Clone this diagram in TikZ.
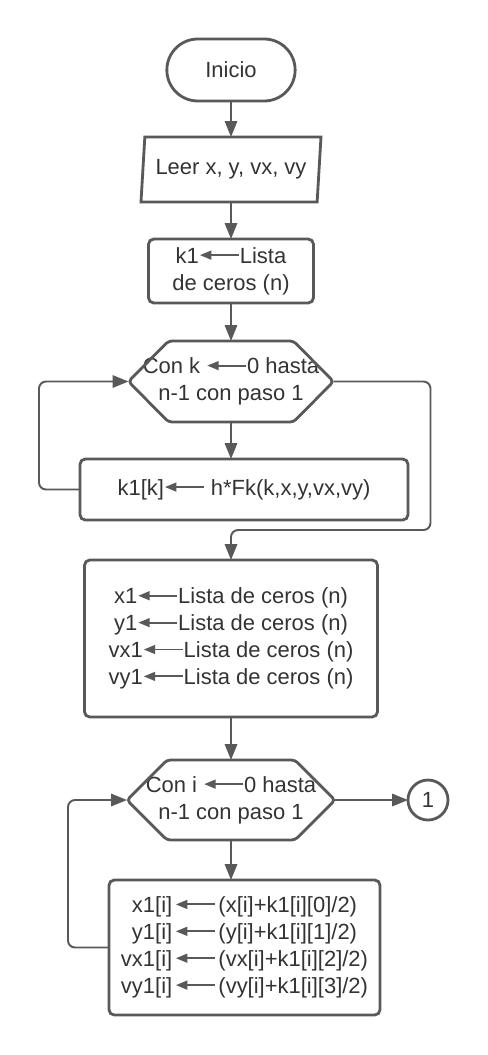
\documentclass[tikz,border=0pt]{standalone}
\usepackage{fontspec}
\setmainfont{Liberation Sans}
\usepackage{xcolor}
\usepackage{tikz}
\usetikzlibrary{positioning, arrows.meta, shapes.geometric, shapes.misc, calc}

\definecolor{linea}{RGB}{89,89,89}
\definecolor{texto}{RGB}{51,51,51}

% flecha de asignacion dentro del texto
\newcommand{\asig}[1][0.78cm]{\tikz[baseline=-0.7ex]\draw[draw=linea, line width=1.1pt, sharp corners, {Triangle[length=6.5pt,width=5pt]}-] (0,0) -- (#1,0);}
% contorno del hexagono de los ciclos
\newcommand{\hexa}[1]{\draw[forma, rounded corners=2pt] (#1.west) -- ([xshift=0.8cm]#1.north west) -- ([xshift=-0.8cm]#1.north east) -- (#1.east) -- ([xshift=-0.8cm]#1.south east) -- ([xshift=0.8cm]#1.south west) -- cycle;}

\begin{document}
\begin{tikzpicture}[
    node distance=0.75cm,
    font=\fontsize{12.5}{15.3}\selectfont,
    text=texto,
    forma/.style={draw=linea, line width=1.6pt},
    caja/.style={forma, rectangle, rounded corners=3pt, align=center, inner sep=2pt, outer sep=0pt},
    terminal/.style={forma, rounded rectangle, minimum width=2.8cm, minimum height=1.24cm, outer sep=0pt},
    datos/.style={forma, trapezium, trapezium left angle=83, trapezium right angle=97,
                  trapezium stretches body, minimum width=3.6cm, minimum height=1.3cm, outer sep=0pt},
    ciclo/.style={rectangle, align=center, inner sep=0pt, outer sep=0pt},
    conector/.style={forma, circle, minimum size=0.8cm, inner sep=0pt, outer sep=0pt},
    arr/.style={-{Triangle[length=9pt,width=7pt]}, line width=1.1pt, draw=linea}
]
\useasboundingbox (-4.62,1.4) rectangle (5.14,-19.7);

\node[terminal] (inicio) at (0,0) {Inicio};
\node[datos, below=0.72cm of inicio] (leer) {Leer x, y, vx, vy};
\node[caja, below=0.74cm of leer, minimum width=3.3cm, minimum height=1.28cm] (k1) {k1\asig Lista\\de ceros (n)};
\node[ciclo, below=0.76cm of k1, minimum width=4.1cm, minimum height=1.62cm] (hexk) {Con k \asig 0 hasta\\n-1 con paso 1};
\hexa{hexk}
\node[caja, below=0.74cm of hexk, xshift=0.26cm, minimum width=6.56cm, minimum height=1.22cm] (kk) {k1[k]\asig{} h*Fk(k,x,y,vx,vy)};
\node[caja, below=0.8cm of kk, xshift=-0.26cm, minimum width=5.86cm, minimum height=3.14cm] (ceros)
    {x1\asig Lista de ceros (n)\\y1\asig Lista de ceros (n)\\vx1\asig Lista de ceros (n)\\vy1\asig Lista de ceros (n)};
\node[ciclo, below=0.86cm of ceros, minimum width=4.16cm, minimum height=1.6cm] (hexi) {Con i \asig 0 hasta\\n-1 con paso 1};
\hexa{hexi}
\node[conector, right=1.46cm of hexi] (uno) {1};
\node[caja, below=0.8cm of hexi, xshift=0.27cm, minimum width=5.42cm, minimum height=2.7cm] (ii) {%
    \begin{tabular}{@{}r@{\hspace{1.5pt}}c@{\hspace{1.5pt}}l@{}}
    x1[i] & \asig & (x[i]+k1[i][0]/2)\\
    y1[i] & \asig & (y[i]+k1[i][1]/2)\\
    vx1[i] & \asig & (vx[i]+k1[i][2]/2)\\
    vy1[i] & \asig & (vy[i]+k1[i][3]/2)
    \end{tabular}};

\draw[arr] (inicio) -- (leer);
\draw[arr] (leer) -- (k1);
\draw[arr] (k1) -- (hexk);
\draw[arr] (hexk) -- (hexk |- kk.north);
\draw[arr, rounded corners=4pt] (kk.west) -- ++(-0.82,0) |- (hexk.west);
\draw[arr, rounded corners=4pt] (hexk.east) -| ($(hexk.east |- kk.south)+(1.94,-0.2)$) -| (ceros.north);
\draw[arr] (ceros) -- (hexi);
\draw[arr] (hexi) -- (uno);
\draw[arr] (hexi) -- (hexi |- ii.north);
\draw[arr, rounded corners=4pt] (ii.west) -- ++(-0.82,0) |- (hexi.west);
\end{tikzpicture}
\end{document}
